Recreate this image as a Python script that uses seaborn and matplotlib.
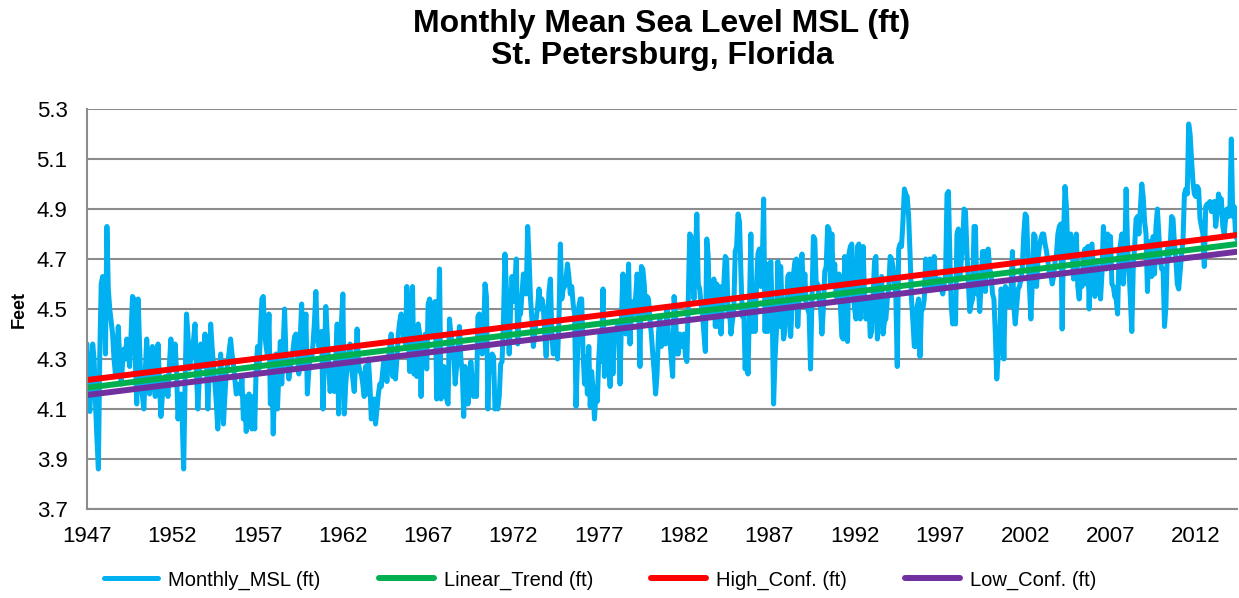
import numpy as np
import pandas as pd
import matplotlib.pyplot as plt
import seaborn as sns

# Monthly mean sea level (ft), one row per year starting Jan 1947
monthly_msl = [
    4.36, 4.15, 4.09, 4.22, 4.36, 4.30, 4.12, 3.98, 3.86, 4.32, 4.60, 4.63,  # 1947
    4.62, 4.32, 4.83, 4.58, 4.50, 4.45, 4.40, 4.30, 4.24, 4.33, 4.43, 4.30,  # 1948
    4.20, 4.28, 4.34, 4.30, 4.38, 4.33, 4.27, 4.40, 4.55, 4.54, 4.30, 4.12,  # 1949
    4.54, 4.35, 4.19, 4.15, 4.10, 4.25, 4.38, 4.28, 4.16, 4.25, 4.35, 4.22,  # 1950
    4.15, 4.26, 4.36, 4.20, 4.07, 4.15, 4.20, 4.23, 4.18, 4.15, 4.28, 4.38,  # 1951
    4.30, 4.27, 4.36, 4.25, 4.06, 4.12, 4.16, 4.05, 3.86, 4.20, 4.48, 4.40,  # 1952
    4.26, 4.30, 4.35, 4.38, 4.44, 4.25, 4.10, 4.22, 4.36, 4.30, 4.27, 4.40,  # 1953
    4.30, 4.10, 4.25, 4.44, 4.35, 4.27, 4.20, 4.12, 4.02, 4.15, 4.32, 4.20,  # 1954
    4.04, 4.15, 4.25, 4.28, 4.33, 4.38, 4.32, 4.28, 4.22, 4.16, 4.18, 4.20,  # 1955
    4.16, 4.22, 4.06, 4.15, 4.01, 4.10, 4.16, 4.10, 4.02, 4.15, 4.02, 4.27,  # 1956
    4.35, 4.26, 4.40, 4.54, 4.55, 4.40, 4.35, 4.31, 4.48, 4.12, 4.30, 4.00,  # 1957
    4.20, 4.32, 4.10, 4.25, 4.37, 4.20, 4.35, 4.50, 4.30, 4.28, 4.22, 4.26,  # 1958
    4.30, 4.34, 4.39, 4.40, 4.32, 4.24, 4.38, 4.52, 4.27, 4.35, 4.48, 4.16,  # 1959
    4.25, 4.32, 4.30, 4.36, 4.45, 4.57, 4.40, 4.35, 4.40, 4.41, 4.10, 4.30,  # 1960
    4.51, 4.40, 4.27, 4.17, 4.22, 4.26, 4.17, 4.30, 4.44, 4.08, 4.30, 4.45,  # 1961
    4.56, 4.08, 4.20, 4.27, 4.32, 4.36, 4.27, 4.22, 4.17, 4.30, 4.42, 4.28,  # 1962
    4.25, 4.24, 4.20, 4.15, 4.27, 4.16, 4.30, 4.20, 4.06, 4.12, 4.14, 4.04,  # 1963
    4.10, 4.16, 4.20, 4.19, 4.25, 4.30, 4.26, 4.21, 4.30, 4.35, 4.40, 4.23,  # 1964
    4.25, 4.22, 4.30, 4.40, 4.45, 4.48, 4.42, 4.38, 4.36, 4.59, 4.40, 4.25,  # 1965
    4.45, 4.59, 4.24, 4.35, 4.23, 4.44, 4.40, 4.15, 4.38, 4.33, 4.40, 4.26,  # 1966
    4.52, 4.54, 4.52, 4.40, 4.45, 4.53, 4.14, 4.38, 4.66, 4.14, 4.20, 4.27,  # 1967
    4.20, 4.14, 4.12, 4.46, 4.40, 4.35, 4.32, 4.20, 4.27, 4.35, 4.43, 4.30,  # 1968
    4.25, 4.07, 4.27, 4.20, 4.12, 4.17, 4.29, 4.22, 4.15, 4.20, 4.15, 4.47,  # 1969
    4.48, 4.40, 4.32, 4.40, 4.60, 4.55, 4.10, 4.30, 4.25, 4.32, 4.31, 4.10,  # 1970
    4.12, 4.10, 4.15, 4.28, 4.29, 4.46, 4.72, 4.58, 4.45, 4.32, 4.50, 4.63,  # 1971
    4.53, 4.60, 4.70, 4.36, 4.48, 4.48, 4.56, 4.64, 4.60, 4.56, 4.83, 4.70,  # 1972
    4.54, 4.46, 4.35, 4.40, 4.46, 4.51, 4.58, 4.50, 4.54, 4.51, 4.40, 4.31,  # 1973
    4.45, 4.57, 4.62, 4.40, 4.32, 4.35, 4.37, 4.30, 4.45, 4.76, 4.54, 4.58,  # 1974
    4.59, 4.62, 4.68, 4.63, 4.56, 4.59, 4.52, 4.48, 4.11, 4.30, 4.51, 4.54,  # 1975
    4.54, 4.32, 4.20, 4.31, 4.16, 4.35, 4.11, 4.25, 4.18, 4.06, 4.16, 4.13,  # 1976
    4.30, 4.40, 4.29, 4.58, 4.23, 4.35, 4.40, 4.29, 4.19, 4.40, 4.24, 4.40,  # 1977
    4.40, 4.43, 4.44, 4.20, 4.47, 4.64, 4.48, 4.40, 4.51, 4.68, 4.36, 4.53,  # 1978
    4.50, 4.48, 4.55, 4.64, 4.54, 4.27, 4.67, 4.66, 4.60, 4.48, 4.55, 4.54,  # 1979
    4.46, 4.40, 4.32, 4.25, 4.16, 4.24, 4.40, 4.47, 4.35, 4.43, 4.40, 4.36,  # 1980
    4.51, 4.40, 4.39, 4.30, 4.23, 4.55, 4.48, 4.32, 4.32, 4.40, 4.35, 4.38,  # 1981
    4.40, 4.31, 4.29, 4.54, 4.80, 4.79, 4.64, 4.54, 4.70, 4.88, 4.60, 4.58,  # 1982
    4.52, 4.48, 4.40, 4.33, 4.78, 4.71, 4.48, 4.51, 4.55, 4.62, 4.43, 4.60,  # 1983
    4.43, 4.59, 4.40, 4.51, 4.60, 4.71, 4.70, 4.47, 4.50, 4.40, 4.45, 4.50,  # 1984
    4.73, 4.75, 4.88, 4.85, 4.65, 4.47, 4.51, 4.26, 4.40, 4.24, 4.50, 4.80,  # 1985
    4.41, 4.54, 4.41, 4.60, 4.72, 4.74, 4.59, 4.67, 4.94, 4.41, 4.68, 4.41,  # 1986
    4.50, 4.69, 4.50, 4.12, 4.30, 4.41, 4.69, 4.43, 4.67, 4.50, 4.38, 4.41,  # 1987
    4.50, 4.63, 4.64, 4.39, 4.51, 4.64, 4.69, 4.70, 4.43, 4.55, 4.67, 4.72,  # 1988
    4.54, 4.64, 4.51, 4.50, 4.48, 4.26, 4.54, 4.79, 4.78, 4.59, 4.60, 4.54,  # 1989
    4.51, 4.40, 4.50, 4.65, 4.67, 4.83, 4.82, 4.59, 4.80, 4.60, 4.68, 4.55,  # 1990
    4.54, 4.64, 4.51, 4.39, 4.38, 4.71, 4.55, 4.37, 4.72, 4.75, 4.76, 4.56,  # 1991
    4.50, 4.46, 4.75, 4.76, 4.46, 4.63, 4.75, 4.54, 4.46, 4.50, 4.54, 4.39,  # 1992
    4.41, 4.55, 4.69, 4.71, 4.38, 4.51, 4.48, 4.63, 4.40, 4.45, 4.46, 4.54,  # 1993
    4.58, 4.71, 4.70, 4.67, 4.60, 4.55, 4.27, 4.74, 4.76, 4.75, 4.85, 4.98,  # 1994
    4.96, 4.95, 4.87, 4.72, 4.54, 4.45, 4.35, 4.35, 4.51, 4.54, 4.31, 4.50,  # 1995
    4.50, 4.54, 4.70, 4.59, 4.64, 4.70, 4.59, 4.62, 4.71, 4.59, 4.62, 4.59,  # 1996
    4.62, 4.58, 4.56, 4.60, 4.64, 4.96, 4.97, 4.71, 4.51, 4.44, 4.50, 4.44,  # 1997
    4.80, 4.82, 4.63, 4.69, 4.75, 4.90, 4.89, 4.73, 4.61, 4.49, 4.52, 4.54,  # 1998
    4.83, 4.83, 4.56, 4.60, 4.49, 4.60, 4.73, 4.73, 4.57, 4.73, 4.74, 4.66,  # 1999
    4.64, 4.56, 4.54, 4.40, 4.22, 4.31, 4.35, 4.58, 4.55, 4.30, 4.59, 4.58,  # 2000
    4.55, 4.51, 4.56, 4.73, 4.51, 4.44, 4.51, 4.58, 4.59, 4.62, 4.67, 4.80,  # 2001
    4.88, 4.87, 4.70, 4.59, 4.46, 4.60, 4.80, 4.79, 4.59, 4.70, 4.75, 4.78,  # 2002
    4.80, 4.80, 4.76, 4.73, 4.69, 4.64, 4.64, 4.60, 4.63, 4.69, 4.72, 4.80,  # 2003
    4.83, 4.84, 4.42, 4.80, 4.99, 4.91, 4.72, 4.76, 4.80, 4.76, 4.62, 4.68,  # 2004
    4.80, 4.59, 4.54, 4.64, 4.59, 4.70, 4.74, 4.60, 4.75, 4.50, 4.75, 4.76,  # 2005
    4.64, 4.55, 4.60, 4.67, 4.64, 4.54, 4.64, 4.83, 4.75, 4.66, 4.80, 4.79,  # 2006
    4.79, 4.60, 4.59, 4.55, 4.54, 4.48, 4.72, 4.76, 4.80, 4.60, 4.70, 4.98,  # 2007
    4.75, 4.66, 4.54, 4.41, 4.66, 4.75, 4.86, 4.87, 4.80, 4.90, 5.00, 4.95,  # 2008
    4.85, 4.80, 4.57, 4.77, 4.70, 4.63, 4.79, 4.64, 4.83, 4.90, 4.80, 4.70,  # 2009
    4.66, 4.66, 4.43, 4.51, 4.74, 4.71, 4.75, 4.87, 4.86, 4.76, 4.70, 4.60,  # 2010
    4.58, 4.65, 4.72, 4.77, 4.96, 4.98, 4.96, 5.24, 5.20, 5.10, 5.01, 4.96,  # 2011
    4.95, 4.99, 4.98, 4.86, 4.83, 4.80, 4.67, 4.91, 4.92, 4.92, 4.93, 4.89,  # 2012
    4.89, 4.93, 4.83, 4.88, 4.96, 4.94, 4.94, 4.83, 4.80, 4.86, 4.90, 4.87,  # 2013
    4.90, 5.18, 4.87, 4.91, 4.80, 4.78,                                      # 2014
]

start_year = 1947
tick_years = list(range(1947, 2013, 5))

# straight lines: value at first and last month
linear_trend = [4.185, 4.760]
high_conf = [4.216, 4.796]
low_conf = [4.156, 4.729]

n = len(monthly_msl)
df = pd.DataFrame({'month': np.arange(n), 'msl': monthly_msl})
ends = [0, n - 1]

sns.set_style('white')
plt.rcParams['font.family'] = ['Liberation Sans', 'DejaVu Sans']
for k in ['text.color', 'axes.labelcolor', 'xtick.color', 'ytick.color']:
    plt.rcParams[k] = 'black'

fig = plt.figure(figsize=(12.39, 5.98), dpi=100)
ax = fig.add_axes([87 / 1239, 1 - 509 / 598, 1150 / 1239, 400 / 598])

sns.lineplot(data=df, x='month', y='msl', ax=ax, color='#00B0F0', lw=3.6,
             solid_joinstyle='round', solid_capstyle='round', label='Monthly_MSL (ft)')
sns.lineplot(x=ends, y=linear_trend, ax=ax, color='#00B050', lw=4.3, label='Linear_Trend (ft)')
sns.lineplot(x=ends, y=high_conf, ax=ax, color='#FF0000', lw=4.3, label='High_Conf. (ft)')
sns.lineplot(x=ends, y=low_conf, ax=ax, color='#7030A0', lw=4.3, label='Low_Conf. (ft)')

ax.set_xlim(0, n - 1)
ax.set_ylim(3.7, 5.3)
yt = np.arange(3.7, 5.31, 0.2)
ax.set_yticks(yt)
ax.set_yticklabels([f'{v:.1f}' for v in yt], fontsize=16)
ax.set_xticks([(y - start_year) * 12 for y in tick_years])
ax.set_xticklabels([str(y) for y in tick_years], fontsize=16)
ax.tick_params(axis='y', length=0, pad=14)
ax.tick_params(axis='x', length=0, pad=12)

ax.yaxis.grid(True, color='#8c8c8c', lw=1.5)
ax.set_axisbelow(True)
for s in ['top', 'right']:
    ax.spines[s].set_visible(False)
for s in ['left', 'bottom']:
    ax.spines[s].set_color('#8c8c8c')
    ax.spines[s].set_linewidth(1.5)

ax.set_xlabel('')
ax.set_ylabel('Feet', fontsize=13, fontweight='bold', labelpad=6)

fig.text(662 / 1239, 1 - 40 / 598, 'Monthly Mean Sea Level MSL (ft)\nSt. Petersburg, Florida',
         ha='center', va='center', fontsize=23, fontweight='bold', linespacing=1.1)

handles, labels = ax.get_legend_handles_labels()
ax.get_legend().remove()
fig.legend(handles, labels, loc='center', bbox_to_anchor=(600 / 1239, 1 - 580 / 598),
           ncol=4, frameon=False, fontsize=14.5, handlelength=2.7,
           handletextpad=0.5, columnspacing=2.9)

plt.savefig('out.png', dpi=100)
plt.close()
